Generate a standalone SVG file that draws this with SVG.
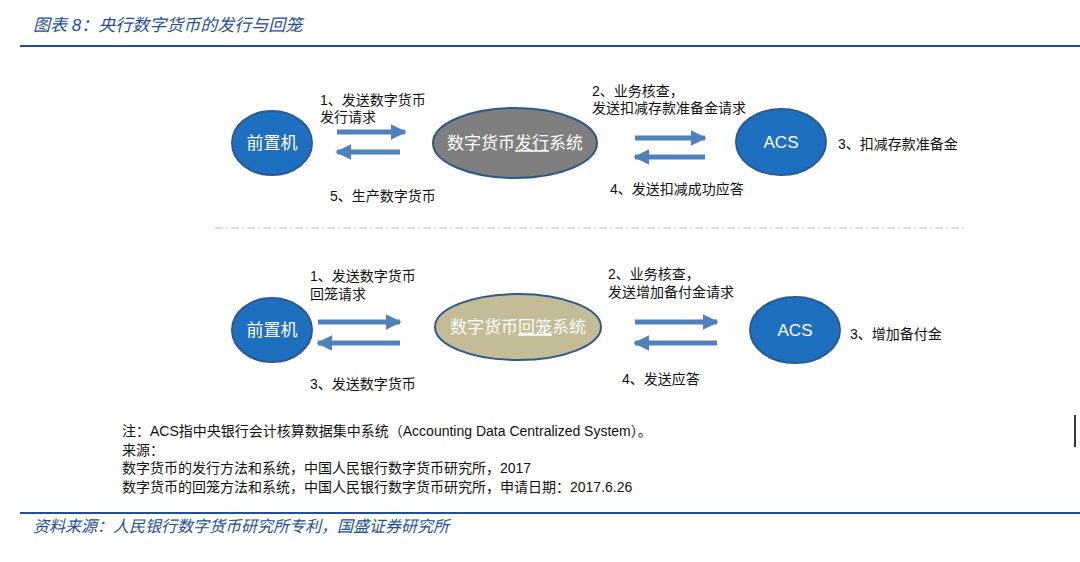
<svg xmlns="http://www.w3.org/2000/svg" width="1080" height="562" viewBox="0 0 1080 562">
<defs>
<marker id="ah" viewBox="0 0 10 10" refX="9" refY="5" markerWidth="3.2" markerHeight="3.2" orient="auto"><path d="M0,0 L10,5 L0,10 z" fill="#4f81bd"/></marker>
<style>
.t{font-family:"Liberation Sans","Noto Sans CJK SC",sans-serif;font-size:14px;fill:#111}
.hd{font-family:"Liberation Sans","Noto Sans CJK SC",sans-serif;font-size:17px;fill:#1f4e9a;font-style:italic}
.n{font-family:"Liberation Sans","Noto Sans CJK SC",sans-serif;font-size:17px;fill:#fff;text-anchor:middle}
.b{fill:#1f6fc0;stroke:#2a5a90;stroke-width:2}
.a{stroke:#4f81bd;stroke-width:5;marker-end:url(#ah)}
</style>
</defs>
<rect width="1080" height="562" fill="#fff"/>
<text class="hd" x="33" y="31">图表 8：央行数字货币的发行与回笼</text>
<line x1="20" y1="46" x2="1080" y2="46" stroke="#1f4e9a" stroke-width="2"/>
<g id="n1"><ellipse class="b" cx="272" cy="143" rx="40" ry="32"/><text class="n" x="272" y="149">前置机</text></g>
<g id="n2"><ellipse cx="515" cy="143" rx="82" ry="35" fill="#7f7f7f" stroke="#2e5a8a" stroke-width="2"/><text class="n" x="515" y="149">数字货币<tspan text-decoration="underline">发行</tspan>系统</text></g>
<g id="n3"><ellipse class="b" cx="781" cy="142" rx="45" ry="33"/><text class="n" x="781" y="148">ACS</text></g>
<g id="n4"><ellipse class="b" cx="272" cy="330" rx="40" ry="32"/><text class="n" x="272" y="336">前置机</text></g>
<g id="n5"><ellipse cx="518" cy="327" rx="83" ry="33" fill="#c4bc96" stroke="#2e5a8a" stroke-width="2"/><text class="n" x="518" y="333">数字货币<tspan text-decoration="underline">回笼</tspan>系统</text></g>
<g id="n6"><ellipse class="b" cx="795" cy="330" rx="45" ry="33"/><text class="n" x="795" y="336">ACS</text></g>
<g id="connectors">
<line class="a" x1="337" y1="132" x2="405" y2="132"/>
<line class="a" x1="400" y1="152" x2="337" y2="152"/>
<line class="a" x1="635" y1="138" x2="705" y2="138"/>
<line class="a" x1="705" y1="157" x2="635" y2="157"/>
<line class="a" x1="318" y1="322" x2="400" y2="322"/>
<line class="a" x1="400" y1="343" x2="318" y2="343"/>
<line class="a" x1="635" y1="322" x2="717" y2="322"/>
<line class="a" x1="717" y1="343" x2="635" y2="343"/>
</g>
<text class="t" x="320" y="105">1、发送数字货币</text>
<text class="t" x="320" y="122">发行请求</text>
<text class="t" x="330" y="201">5、生产数字货币</text>
<text class="t" x="592" y="96">2、业务核查，</text>
<text class="t" x="592" y="113">发送扣减存款准备金请求</text>
<text class="t" x="610" y="194">4、发送扣减成功应答</text>
<text class="t" x="838" y="149">3、扣减存款准备金</text>
<line x1="215" y1="228" x2="965" y2="228" stroke="#9dc3e6" stroke-width="1.2" stroke-dasharray="8,3,2,3"/>
<text class="t" x="310" y="281">1、发送数字货币</text>
<text class="t" x="310" y="299">回笼请求</text>
<text class="t" x="310" y="389">3、发送数字货币</text>
<text class="t" x="608" y="279">2、业务核查，</text>
<text class="t" x="608" y="297">发送增加备付金请求</text>
<text class="t" x="622" y="384">4、发送应答</text>
<text class="t" x="850" y="339">3、增加备付金</text>
<text class="t" x="122" y="436">注：ACS指中央银行会计核算数据集中系统（Accounting Data Centralized System）。</text>
<text class="t" x="122" y="455">来源：</text>
<text class="t" x="122" y="473">数字货币的发行方法和系统，中国人民银行数字货币研究所，2017</text>
<text class="t" x="122" y="492">数字货币的回笼方法和系统，中国人民银行数字货币研究所，申请日期：2017.6.26</text>
<line x1="1075" y1="415" x2="1075" y2="447" stroke="#333" stroke-width="2"/>
<line x1="20" y1="513" x2="1080" y2="513" stroke="#1f4e9a" stroke-width="2"/>
<text class="hd" x="33" y="532" style="font-size:16px">资料来源：人民银行数字货币研究所专利，国盛证券研究所</text>
</svg>
